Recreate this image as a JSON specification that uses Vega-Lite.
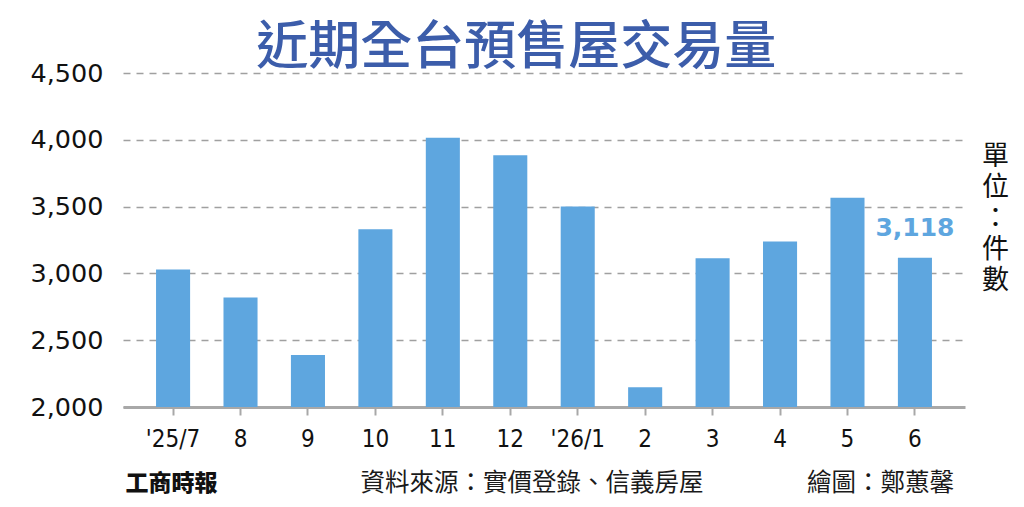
{
  "$schema": "https://vega.github.io/schema/vega-lite/v6.json",
  "width": 842,
  "height": 334,
  "autosize": {"type": "none"},
  "padding": {"left": 123, "top": 73, "right": 59, "bottom": 100},
  "background": "white",
  "title": {
    "text": "近期全台預售屋交易量",
    "font": "Noto Sans CJK TC",
    "fontSize": 52,
    "fontWeight": 500,
    "color": "#3C5DAA",
    "anchor": "middle",
    "frame": "bounds",
    "offset": -14,
    "dx": -3
  },
  "data": {
    "values": [
      {"month": "'25/7", "count": 3030},
      {"month": "8", "count": 2820},
      {"month": "9", "count": 2390},
      {"month": "10", "count": 3330},
      {"month": "11", "count": 4015},
      {"month": "12", "count": 3885},
      {"month": "'26/1", "count": 3500},
      {"month": "2", "count": 2148},
      {"month": "3", "count": 3114},
      {"month": "4", "count": 3238},
      {"month": "5", "count": 3566},
      {"month": "6", "count": 3118}
    ]
  },
  "layer": [
    {
      "mark": {"type": "bar", "color": "#5EA6DF", "clip": true},
      "encoding": {
        "x": {
          "field": "month",
          "type": "nominal",
          "sort": null,
          "scale": {"paddingInner": 0.495, "paddingOuter": 0.49},
          "axis": {
            "labelAngle": 0,
            "labelFont": "DejaVu Sans Condensed, Liberation Sans",
            "labelFontSize": 24,
            "labelColor": "#111",
            "labelPadding": 12,
            "domainColor": "#A8A8A8",
            "domainWidth": 3,
            "tickColor": "#A8A8A8",
            "tickWidth": 2,
            "tickSize": 8,
            "bandPosition": 0.5,
            "title": "資料來源：實價登錄、信義房屋　　　　  繪圖：鄭蕙馨",
            "titleFont": "Noto Sans CJK TC",
            "titleFontSize": 24.5,
            "titleFontWeight": 400,
            "titleColor": "#1a1a1a",
            "titleAlign": "left",
            "titleAnchor": null,
            "titleBaseline": "middle",
            "titleX": 237,
            "titleY": 76
          }
        },
        "y": {
          "field": "count",
          "type": "quantitative",
          "scale": {"domain": [2000, 4500], "nice": false, "zero": false},
          "axis": {
            "values": [2000, 2500, 3000, 3500, 4000, 4500],
            "format": ",d",
            "labelFont": "DejaVu Sans",
            "labelFontSize": 25.5,
            "labelColor": "#111",
            "labelPadding": 20,
            "ticks": false,
            "domain": false,
            "grid": true,
            "gridColor": "#A0A0A0",
            "gridWidth": 1.5,
            "gridDash": [7, 6],
            "title": "工商時報",
            "titleFont": "Noto Sans CJK TC",
            "titleFontSize": 23,
            "titleFontWeight": 900,
            "titleColor": "#111",
            "titleAngle": 0,
            "titleAlign": "left",
            "titleBaseline": "middle",
            "titleX": 2,
            "titleY": 410
          }
        }
      }
    },
    {
      "transform": [{"filter": "datum.month == '6'"}],
      "mark": {
        "type": "text",
        "font": "DejaVu Sans",
        "fontSize": 25,
        "fontWeight": 600,
        "color": "#5EA6DF",
        "baseline": "bottom",
        "dy": -17
      },
      "encoding": {
        "x": {"field": "month", "type": "nominal", "sort": null},
        "y": {
          "field": "count",
          "type": "quantitative",
          "scale": {"domain": [2000, 4500], "nice": false, "zero": false},
          "axis": {
            "orient": "right",
            "labels": false,
            "ticks": false,
            "domain": false,
            "grid": false,
            "title": ["單", "位", "：", "件", "數"],
            "titleFont": "Noto Sans CJK TC",
            "titleFontSize": 27,
            "titleFontWeight": 400,
            "titleColor": "#111",
            "titleAngle": 0,
            "titleAlign": "center",
            "titleBaseline": "top",
            "titleLineHeight": 31,
            "titleX": 30,
            "titleY": 70
          }
        },
        "text": {"field": "count", "type": "quantitative", "format": ","}
      }
    }
  ],
  "resolve": {"scale": {"y": "independent"}, "axis": {"y": "independent"}},
  "config": {"view": {"stroke": null}}
}
